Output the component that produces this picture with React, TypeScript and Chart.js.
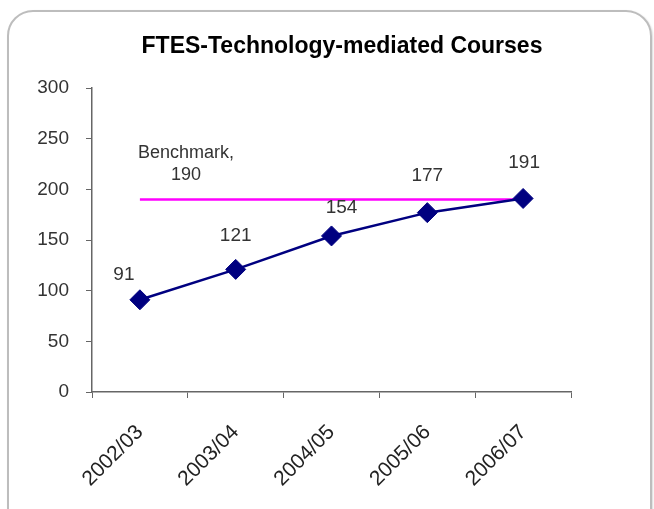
import React, { useEffect, useRef } from "react";
import { Chart, registerables } from "chart.js";

Chart.register(...registerables);

const categories = ["2002/03", "2003/04", "2004/05", "2005/06", "2006/07"];
const ftesValues = [91, 121, 154, 177, 191];
const benchmarkValues = [190, 190, 190, 190, 190];
const benchmarkLabel = ["Benchmark,", "190"];
const titleText = "FTES-Technology-mediated Courses";
const yMin = 0;
const yMax = 300;
const yStep = 50;

// label placement offsets (px) relative to each point, as in the original
const labelOffsets = [
  [-16, -25],
  [0, -34],
  [10, -28],
  [0, -37],
  [1, -36],
];

const FONT = "'Liberation Sans', Arial, sans-serif";

const overlayPlugin = {
  id: "overlay",
  afterDatasetsDraw(chart: any) {
    const ctx = chart.ctx;
    ctx.save();
    // title
    ctx.fillStyle = "#000";
    ctx.font = `bold 23px ${FONT}`;
    ctx.textAlign = "center";
    ctx.textBaseline = "alphabetic";
    ctx.fillText(titleText, 342, 53);

    // data labels
    const meta = chart.getDatasetMeta(0);
    ctx.font = `19px ${FONT}`;
    ctx.fillStyle = "#333";
    ctx.textBaseline = "middle";
    meta.data.forEach((pt: any, i: number) => {
      const off = labelOffsets[i] || [0, -30];
      ctx.fillText(String(ftesValues[i]), pt.x + off[0], pt.y + off[1]);
    });

    // benchmark label
    const bMeta = chart.getDatasetMeta(1);
    const p0 = bMeta.data[0];
    ctx.font = `18px ${FONT}`;
    ctx.fillText(benchmarkLabel[0], p0.x + 46, p0.y - 46);
    ctx.fillText(benchmarkLabel[1], p0.x + 46, p0.y - 24);
    ctx.restore();
  },
};

export default function App() {
  const canvasRef = useRef<HTMLCanvasElement | null>(null);

  useEffect(() => {
    const canvas = canvasRef.current;
    if (!canvas) return;
    const chart = new Chart(canvas, {
      type: "line",
      data: {
        labels: categories,
        datasets: [
          {
            label: "FTES",
            data: ftesValues,
            borderColor: "#000080",
            backgroundColor: "#000080",
            borderWidth: 2.5,
            pointStyle: "rectRot",
            pointRadius: 10,
            pointBackgroundColor: "#000080",
            pointBorderColor: "#000080",
            pointBorderWidth: 1,
            tension: 0,
          },
          {
            label: "Benchmark",
            data: benchmarkValues,
            borderColor: "#ff00ff",
            borderWidth: 2.5,
            pointRadius: 0,
            tension: 0,
          },
        ],
      },
      options: {
        responsive: false,
        animation: false,
        events: [],
        layout: { padding: { top: 88, right: 83, left: 0, bottom: 0 } },
        plugins: {
          legend: { display: false },
          title: { display: false },
          tooltip: { enabled: false },
        },
        scales: {
          x: {
            type: "category",
            offset: true,
            grid: {
              offset: true,
              drawOnChartArea: false,
              drawTicks: true,
              tickLength: 6,
              color: "#666",
            },
            border: { color: "#666", width: 1.5 },
            ticks: {
              maxRotation: 45,
              minRotation: 45,
              autoSkip: false,
              padding: 22,
              color: "#222",
              font: { family: FONT, size: 21 },
            },
            afterFit: (s: any) => {
              s.height = 117;
            },
          },
          y: {
            min: yMin,
            max: yMax,
            grid: {
              drawOnChartArea: false,
              drawTicks: true,
              tickLength: 6,
              color: "#666",
            },
            border: { color: "#666", width: 1.5 },
            ticks: {
              stepSize: yStep,
              padding: 17,
              color: "#333",
              font: { family: FONT, size: 19 },
            },
            afterFit: (s: any) => {
              s.width = 92;
            },
          },
        },
      },
      plugins: [overlayPlugin],
    });
    return () => chart.destroy();
  }, []);

  return (
    <div
      style={{
        position: "fixed",
        left: 0,
        top: 0,
        width: 654,
        height: 509,
        overflow: "hidden",
        background: "#fff",
      }}
    >
      <div
        style={{
          position: "absolute",
          left: 7,
          top: 10,
          width: 645,
          height: 530,
          boxSizing: "border-box",
          border: "2px solid #bdbdbd",
          borderRadius: 26,
          boxShadow: "1px 1px 2px rgba(0,0,0,0.15)",
        }}
      />
      <canvas
        ref={canvasRef}
        width={654}
        height={509}
        style={{ position: "absolute", left: 0, top: 0, width: 654, height: 509 }}
      />
    </div>
  );
}
